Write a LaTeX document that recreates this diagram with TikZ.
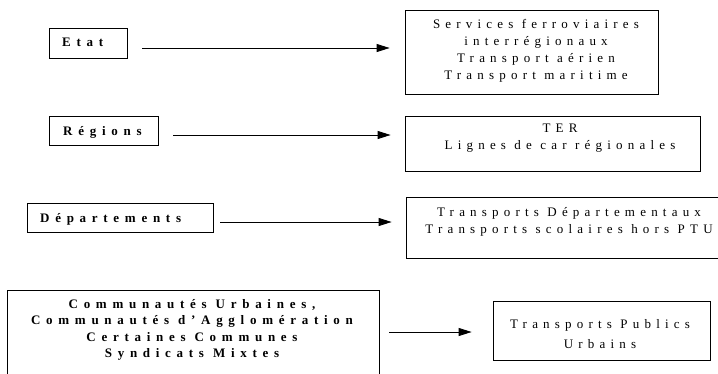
\documentclass[tikz,border=0pt]{standalone}
\usepackage{fontspec}
\setmainfont{Liberation Serif}
\newfontfamily\lspfont[LetterSpace=40]{Liberation Serif}
\newfontfamily\lspbfont[LetterSpace=44]{Liberation Serif Bold}
\usetikzlibrary{arrows.meta}
\begin{document}
\begin{tikzpicture}[x=1pt,y=-1pt,
  box/.style={draw, line width=0.75pt, inner sep=0pt},
  rtxt/.style={inner sep=0pt, align=center, anchor=base, font=\lspfont\fontsize{13}{17}\selectfont},
  ltxt/.style={inner sep=0pt, align=center, anchor=base, font=\lspbfont\fontsize{13}{16.6}\selectfont},
  arr/.style={line width=0.75pt, -{Triangle[length=13pt,width=8pt]}}]
\useasboundingbox (0,0) rectangle (718,373);
% left boxes
\node[box, minimum width=78pt, minimum height=30pt] (etat) at (88,43) {};
\node[ltxt, anchor=base west] (etatT) at (62,46.7) {Etat};
\node[box, minimum width=109pt, minimum height=29pt] (reg) at (103.5,130.5) {};
\node[ltxt, anchor=base west] (regT) at (63,135) {Régions};
\node[box, minimum width=186pt, minimum height=29pt] (dep) at (120,217.5) {};
\node[ltxt, anchor=base west] (depT) at (40,222.3) {Départements};
\node[box, minimum width=372pt, minimum height=88pt] (com) at (193,334) {};
\node[ltxt] (comT) at (192,357.8) {Communautés Urbaines,\\Communautés d’Agglomération\\Certaines Communes\\Syndicats Mixtes};
% right boxes
\node[box, minimum width=253pt, minimum height=84pt] (r1) at (531.5,52) {};
\node[rtxt] (r1T) at (536,79.7) {Services ferroviaires\\interrégionaux\\Transport aérien\\Transport maritime};
\node[box, minimum width=295pt, minimum height=55pt] (r2) at (552.5,143.5) {};
\node[rtxt] (r2T) at (560,149.7) {TER\\Lignes de car régionales};
\node[box, minimum width=320pt, minimum height=61pt] (r3) at (566,227.5) {};
\node[rtxt] (r3T) at (569,233) {Transports Départementaux\\Transports scolaires hors PTU};
\node[box, minimum width=217pt, minimum height=59pt] (r4) at (601.5,330.5) {};
\node[rtxt, font=\lspfont\fontsize{13}{20}\selectfont] (r4T) at (600,348) {Transports Publics\\Urbains};
% arrows
\coordinate (a1) at (142,48);
\coordinate (a2) at (173,135);
\coordinate (a3) at (220,222);
\coordinate (a4) at (389,332);
\draw[arr, shorten >=15pt] (a1) -- (r1.west |- a1);
\draw[arr, shorten >=14pt] (a2) -- (r2.west |- a2);
\draw[arr, shorten >=14pt] (a3) -- (r3.west |- a3);
\draw[arr, shorten >=21pt] (a4) -- (r4.west |- a4);
\end{tikzpicture}
\end{document}
